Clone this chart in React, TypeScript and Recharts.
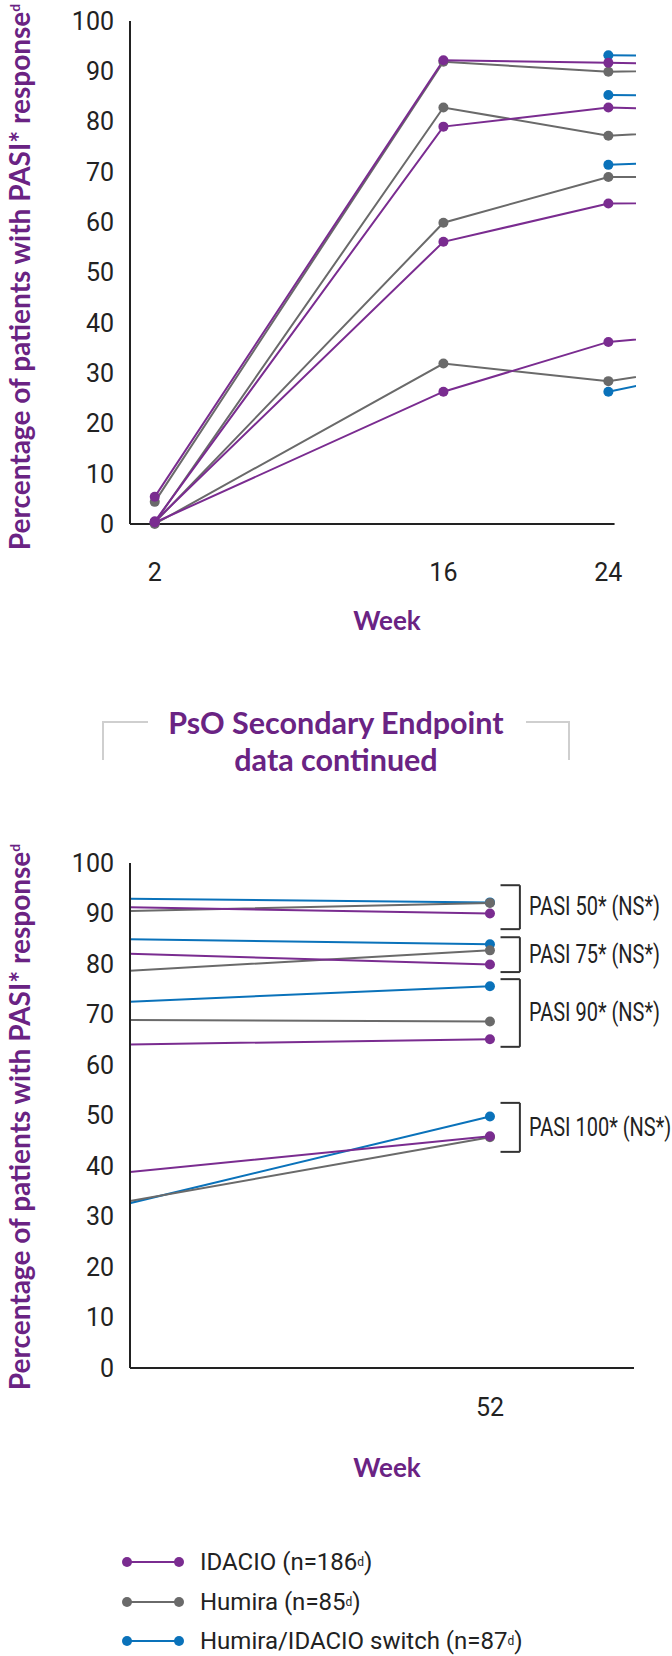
import { LineChart, Line, XAxis, YAxis, ReferenceLine } from "recharts";

// weeks of assessment (24 -> 52 is split across the two panels)
const WEEKS = [2, 16, 24, 52];

// percentage of patients reaching each PASI level
const IDACIO_50 = [5.4, 92.2, 91.7, 90.0];
const HUMIRA_50 = [4.4, 91.9, 89.9, 92.1];
const SWITCH_50 = [null, null, 93.2, 92.2];
const IDACIO_75 = [0.5, 79.0, 82.8, 79.9];
const HUMIRA_75 = [0.3, 82.8, 77.2, 82.7];
const SWITCH_75 = [null, null, 85.3, 83.9];
const IDACIO_90 = [0.5, 56.1, 63.7, 65.1];
const HUMIRA_90 = [0.3, 59.9, 69.0, 68.6];
const SWITCH_90 = [null, null, 71.4, 75.6];
const IDACIO_100 = [0.3, 26.3, 36.2, 45.9];
const HUMIRA_100 = [0, 31.9, 28.4, 45.7];
const SWITCH_100 = [null, null, 26.3, 49.8];

const Y_TICKS = [0, 10, 20, 30, 40, 50, 60, 70, 80, 90, 100];
const TOP_WEEK_TICKS = [2, 16, 24];
const BOTTOM_WEEK_TICKS = [52];

const BRACKET_LABELS = ["PASI 50* (NS*)", "PASI 75* (NS*)", "PASI 90* (NS*)", "PASI 100* (NS*)"];
const BRACKET_TOP = [95.6, 85.3, 77.0, 52.5];
const BRACKET_BOTTOM = [86.9, 78.4, 63.6, 42.8];

const LEGEND_NAMES = ["IDACIO (n=186", "Humira (n=85", "Humira/IDACIO switch (n=87"];

const PURPLE = "#7a2c90";
const GRAY = "#6a6a6a";
const BLUE = "#0a72ba";
const TEXT_PURPLE = "#6a2383";
const INK = "#222";
const NARROW = "Roboto, 'Liberation Sans', sans-serif";
const BOLD = "Lato, 'Open Sans', sans-serif";

const SERIES = [
  { key: "switch50", values: SWITCH_50, color: BLUE },
  { key: "switch75", values: SWITCH_75, color: BLUE },
  { key: "switch90", values: SWITCH_90, color: BLUE },
  { key: "switch100", values: SWITCH_100, color: BLUE },
  { key: "humira50", values: HUMIRA_50, color: GRAY },
  { key: "humira75", values: HUMIRA_75, color: GRAY },
  { key: "humira90", values: HUMIRA_90, color: GRAY },
  { key: "humira100", values: HUMIRA_100, color: GRAY },
  { key: "idacio50", values: IDACIO_50, color: PURPLE },
  { key: "idacio75", values: IDACIO_75, color: PURPLE },
  { key: "idacio90", values: IDACIO_90, color: PURPLE },
  { key: "idacio100", values: IDACIO_100, color: PURPLE },
];

const data = WEEKS.map((week, i) => {
  const row: Record<string, number | null> = { week };
  SERIES.forEach((s) => (row[s.key] = s.values[i]));
  return row;
});

const tickStyle = { fontSize: 25, fill: INK, fontFamily: NARROW };

const renderLines = () =>
  SERIES.map((s) => (
    <Line
      key={s.key}
      dataKey={s.key}
      type="linear"
      stroke={s.color}
      strokeWidth={2}
      dot={{ r: 5, fill: s.color, stroke: s.color, strokeWidth: 0 }}
      activeDot={false}
      connectNulls={false}
      isAnimationActive={false}
    />
  ));

// squeezed text next to each bracket, the reference uses a condensed face
const bracketLabel = (text: string) => (props: any) => {
  const vb = props.viewBox || {};
  const x = (vb.x ?? 0) + 9;
  const y = (vb.y ?? 0) + (vb.height ?? 0) / 2;
  return (
    <text
      transform={`translate(${x}, ${y}) scale(0.8, 1)`}
      dominantBaseline="central"
      fontSize={25}
      fontFamily={NARROW}
      fill={INK}
    >
      {text}
    </text>
  );
};

const YLabel = ({ top }: { top: number }) => (
  <div
    style={{
      position: "absolute",
      left: 19,
      top,
      transform: "translate(-50%, -50%) rotate(-90deg)",
      whiteSpace: "nowrap",
      fontFamily: BOLD,
      fontWeight: 700,
      fontSize: 28,
      color: TEXT_PURPLE,
    }}
  >
    Percentage of patients with PASI* response
    <sup style={{ fontSize: 14 }}>d</sup>
  </div>
);

const WeekLabel = ({ top }: { top: number }) => (
  <div
    style={{
      position: "absolute",
      left: 387,
      top,
      transform: "translate(-50%, -50%)",
      fontFamily: BOLD,
      fontWeight: 700,
      fontSize: 26,
      color: TEXT_PURPLE,
    }}
  >
    Week
  </div>
);

const LegendIcon = ({ color }: { color: string }) => (
  <svg width={62} height={12} style={{ marginRight: 16 }}>
    <line x1={4} y1={6} x2={58} y2={6} stroke={color} strokeWidth={2} />
    <circle cx={5} cy={6} r={5} fill={color} />
    <circle cx={57} cy={6} r={5} fill={color} />
  </svg>
);

export default function App() {
  return (
    <div style={{ position: "relative", width: 672, height: 1656, background: "#fff", overflow: "hidden" }}>
      <style>{"body{margin:0}"}</style>

      {/* weeks 2 - 24 */}
      <div style={{ position: "absolute", left: 0, top: 0 }}>
        <LineChart width={672} height={600} data={data} margin={{ top: 21, right: 36, bottom: 0, left: 0 }}>
          <XAxis
            dataKey="week"
            type="number"
            domain={[0.8, 25.34]}
            allowDataOverflow
            ticks={TOP_WEEK_TICKS}
            interval={0}
            axisLine={false}
            tickLine={false}
            tickSize={0}
            tickMargin={39}
            height={76}
            tick={tickStyle}
          />
          <YAxis
            domain={[0, 100]}
            ticks={Y_TICKS}
            interval={0}
            width={130}
            axisLine={{ stroke: INK, strokeWidth: 2 }}
            tickLine={false}
            tickSize={0}
            tickMargin={16}
            tick={tickStyle}
          />
          <ReferenceLine
            segment={[{ x: 0.8, y: 0 }, { x: 24.3, y: 0 }]}
            stroke={INK}
            strokeWidth={2}
            ifOverflow="visible"
          />
          {renderLines()}
        </LineChart>
      </div>
      <YLabel top={277} />
      <WeekLabel top={620} />

      {/* section heading */}
      <svg width={672} height={60} style={{ position: "absolute", left: 0, top: 700 }}>
        <polyline points="148,22 103,22 103,62" fill="none" stroke="#cfcfcf" strokeWidth={2} />
        <polyline points="526,22 569,22 569,62" fill="none" stroke="#cfcfcf" strokeWidth={2} />
      </svg>
      <div
        style={{
          position: "absolute",
          left: 336,
          top: 741,
          transform: "translate(-50%, -50%)",
          textAlign: "center",
          whiteSpace: "nowrap",
          fontFamily: BOLD,
          fontWeight: 700,
          fontSize: 30.5,
          lineHeight: "37px",
          color: TEXT_PURPLE,
        }}
      >
        PsO Secondary Endpoint
        <br />
        data continued
      </div>

      {/* weeks 24 - 52 */}
      <div style={{ position: "absolute", left: 0, top: 840 }}>
        <LineChart width={672} height={588} data={data} margin={{ top: 23, right: 38, bottom: 0, left: 0 }}>
          <XAxis
            dataKey="week"
            type="number"
            domain={[31.56, 60.18]}
            allowDataOverflow
            ticks={BOTTOM_WEEK_TICKS}
            interval={0}
            axisLine={{ stroke: INK, strokeWidth: 2 }}
            tickLine={false}
            tickSize={0}
            tickMargin={30}
            height={60}
            tick={tickStyle}
          />
          <YAxis
            domain={[0, 100]}
            ticks={Y_TICKS}
            interval={0}
            width={130}
            axisLine={{ stroke: INK, strokeWidth: 2 }}
            tickLine={false}
            tickSize={0}
            tickMargin={16}
            tick={tickStyle}
          />
          {renderLines()}
          {BRACKET_LABELS.map((label, i) => (
            <ReferenceLine
              key={label}
              segment={[{ x: 53.7, y: BRACKET_TOP[i] }, { x: 53.7, y: BRACKET_BOTTOM[i] }]}
              stroke="#333"
              strokeWidth={2}
              label={bracketLabel(label)}
            />
          ))}
          {BRACKET_LABELS.map((label, i) => (
            <ReferenceLine
              key={label + "t"}
              segment={[{ x: 52.6, y: BRACKET_TOP[i] }, { x: 53.7, y: BRACKET_TOP[i] }]}
              stroke="#333"
              strokeWidth={2}
            />
          ))}
          {BRACKET_LABELS.map((label, i) => (
            <ReferenceLine
              key={label + "b"}
              segment={[{ x: 52.6, y: BRACKET_BOTTOM[i] }, { x: 53.7, y: BRACKET_BOTTOM[i] }]}
              stroke="#333"
              strokeWidth={2}
            />
          ))}
        </LineChart>
      </div>
      <YLabel top={1117} />
      <WeekLabel top={1467} />

      {/* legend */}
      {LEGEND_NAMES.map((name, i) => (
        <div
          key={name}
          style={{
            position: "absolute",
            left: 122,
            top: [1562, 1602, 1641][i],
            transform: "translateY(-50%)",
            display: "flex",
            alignItems: "center",
            whiteSpace: "nowrap",
            fontFamily: NARROW,
            fontSize: 24,
            lineHeight: "26px",
            color: INK,
          }}
        >
          <LegendIcon color={[PURPLE, GRAY, BLUE][i]} />
          {name}
          <sup style={{ fontSize: 12 }}>d</sup>)
        </div>
      ))}
    </div>
  );
}
